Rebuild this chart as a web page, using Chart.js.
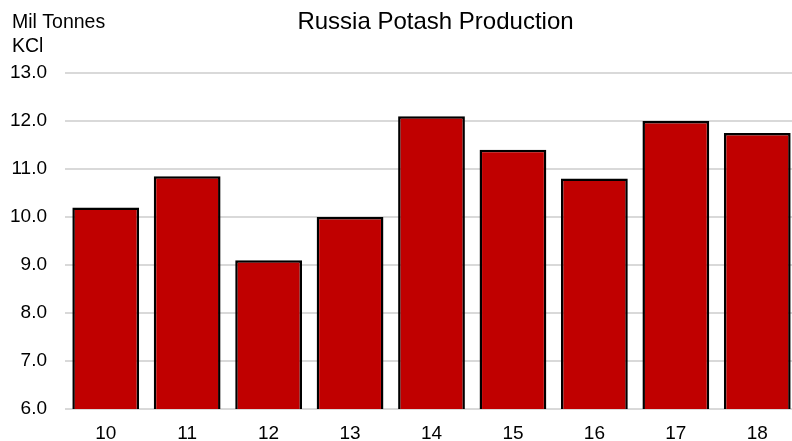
<!DOCTYPE html>
<html>
<head>
<meta charset="utf-8">
<script src="https://cdn.jsdelivr.net/npm/chart.js@4"></script>
<style>
  html, body { margin: 0; padding: 0; background: #fff; overflow: hidden; }
  /* plot runs a few pixels past the right edge of the window */
  #wrap { width: 798px; height: 441px; }
</style>
</head>
<body>
<div id="wrap"><canvas id="chart"></canvas></div>
<script>
// Russia potash output by year, million tonnes KCl
const years = ["10", "11", "12", "13", "14", "15", "16", "17", "18"];
const production = [10.2, 10.85, 9.1, 10.0, 12.1, 11.4, 10.8, 12.0, 11.75];
const yTicks = [6, 7, 8, 9, 10, 11, 12, 13];

const chartTitle = "Russia Potash Production";
const unitLines = ["Mil Tonnes", "KCl"];

const FONT = "Arial, 'Liberation Sans', sans-serif";

// title over the plot area plus the unit note in the top-left corner
const headerText = {
  id: "headerText",
  afterDraw(chart) {
    const ctx = chart.ctx;
    const area = chart.chartArea;
    ctx.save();
    ctx.fillStyle = "#000";
    ctx.textBaseline = "middle";
    ctx.font = "24px " + FONT;
    ctx.textAlign = "center";
    ctx.fillText(chartTitle, (area.left + area.right) / 2 + 4, 22);
    ctx.font = "19.5px " + FONT;
    ctx.textAlign = "left";
    ctx.fillText(unitLines[0], 12, 23);
    ctx.fillText(unitLines[1], 12, 47);
    ctx.restore();
  },
};

new Chart(document.getElementById("chart"), {
  type: "bar",
  data: {
    labels: years,
    datasets: [
      {
        data: production,
        backgroundColor: "#C00000",
        borderColor: "#000",
        borderWidth: 2.5,
        borderSkipped: false,
        barPercentage: 0.82,
        categoryPercentage: 1,
      },
    ],
  },
  options: {
    responsive: true,
    maintainAspectRatio: false,
    animation: false,
    layout: { padding: { top: 73, right: 0, left: 0, bottom: 0 } },
    plugins: {
      legend: { display: false },
      title: { display: false },
      tooltip: { enabled: false },
    },
    scales: {
      x: {
        grid: { display: false, drawTicks: false },
        border: { display: false },
        ticks: { color: "#000", font: { family: FONT, size: 19 }, padding: 13 },
        afterFit(scale) {
          scale.height = 32;
        },
      },
      y: {
        min: 6,
        max: 13,
        afterBuildTicks(scale) {
          scale.ticks = yTicks.map((v) => ({ value: v }));
        },
        grid: { color: "#d9d9d9", lineWidth: 2, drawTicks: false },
        border: { display: false },
        ticks: {
          color: "#000",
          font: { family: FONT, size: 19 },
          padding: 18,
          callback: (v) => Number(v).toFixed(1),
        },
        afterFit(scale) {
          scale.width = 65;
        },
      },
    },
  },
  plugins: [headerText],
});
</script>
</body>
</html>
